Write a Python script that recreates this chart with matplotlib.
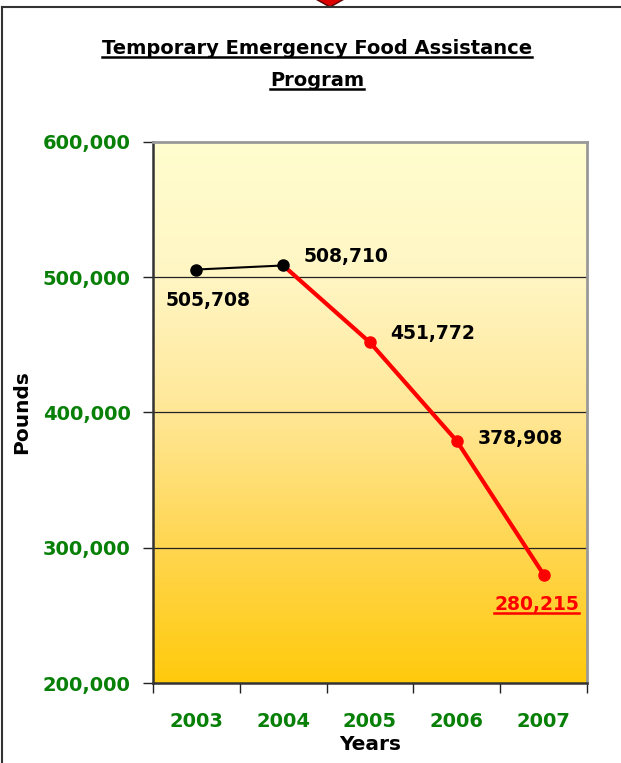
import matplotlib
matplotlib.use("Agg")
import matplotlib.pyplot as plt
import numpy as np
from matplotlib.colors import LinearSegmentedColormap
from matplotlib.patches import Polygon
from matplotlib.lines import Line2D

years = ["2003", "2004", "2005", "2006", "2007"]
pounds = [505708, 508710, 451772, 378908, 280215]
label_texts = ["505,708", "508,710", "451,772", "378,908", "280,215"]
yticks = [200000, 300000, 400000, 500000, 600000]
ytick_labels = ["200,000", "300,000", "400,000", "500,000", "600,000"]

W, H = 621, 763
fig = plt.figure(figsize=(W / 100, H / 100), dpi=100)
fig.patch.set_facecolor("white")

FONT = "DejaVu Sans"
GREEN = "#088008"

def px(x0, y0, x1, y1):
    return [x0 / W, 1 - y1 / H, (x1 - x0) / W, (y1 - y0) / H]

ax = fig.add_axes(px(153, 142, 587, 683))
x = np.arange(len(years))
ax.set_xlim(-0.5, len(years) - 0.5)
ax.set_ylim(200000, 600000)

# gradient background
cmap = LinearSegmentedColormap.from_list(
    "g", [(0.0, "#FFCA0C"), (0.25, "#FFD650"), (0.5, "#FFE796"),
          (0.75, "#FFF6C4"), (1.0, "#FFFDCE")])
grad = np.linspace(0, 1, 256).reshape(-1, 1)
ax.imshow(grad, extent=[-0.5, len(years) - 0.5, 200000, 600000], origin="lower",
          aspect="auto", cmap=cmap, zorder=0)

for yv in [300000, 400000, 500000]:
    ax.axhline(yv, color="#222222", lw=0.9, zorder=1)

ax.plot(x[:2], pounds[:2], color="black", lw=1.5, zorder=3)
ax.plot(x[1:], pounds[1:], color="#FF0000", lw=3, zorder=3)
ax.plot(x[:2], pounds[:2], "o", color="black", ms=8, zorder=4)
ax.plot(x[2:], pounds[2:], "o", color="#FF0000", ms=8, zorder=4)

offsets = [(12, -31), (63, 9), (63, 9), (64, 3), (-7, -30)]
colors = ["black", "black", "black", "black", "#FF0000"]
anns = []
for i in range(len(years)):
    a = ax.annotate(label_texts[i], (x[i], pounds[i]), xytext=offsets[i],
                    textcoords="offset pixels", ha="center", va="center",
                    fontsize=13.5, fontweight="bold", color=colors[i],
                    family=FONT, zorder=5)
    anns.append(a)

ax.set_yticks(yticks)
ax.set_yticklabels(ytick_labels, fontsize=14, fontweight="bold", color=GREEN, family=FONT)
ax.set_xticks(np.arange(-0.5, len(years), 1.0))
ax.set_xticklabels([])
ax.set_xticks(x, minor=True)
ax.set_xticklabels(years, minor=True, fontsize=14, fontweight="bold", color=GREEN, family=FONT)
ax.tick_params(axis="x", which="minor", length=0, pad=21)
ax.tick_params(axis="x", which="major", length=7, width=1, color="#222222", direction="out")
ax.tick_params(axis="y", length=7, width=1, color="#222222", pad=9)

for s in ["left", "bottom"]:
    ax.spines[s].set_color("#333333")
    ax.spines[s].set_linewidth(1.8)
for s in ["top", "right"]:
    ax.spines[s].set_color("#999999")
    ax.spines[s].set_linewidth(2)

fig.text(22 / W, 1 - 412 / H, "Pounds", rotation=90, ha="center", va="center",
         fontsize=14.5, fontweight="bold", family=FONT)
fig.text(370 / W, 1 - 745 / H, "Years", ha="center", va="center",
         fontsize=14.5, fontweight="bold", family=FONT)

t1 = fig.text(317 / W, 1 - 48 / H, "Temporary Emergency Food Assistance", ha="center",
              va="center", fontsize=14, fontweight="bold", family=FONT)
t2 = fig.text(317 / W, 1 - 80 / H, "Program", ha="center", va="center",
              fontsize=14, fontweight="bold", family=FONT)

# frame lines
fig.add_artist(Line2D([1.5 / W, 1.5 / W], [0, 1 - 7 / H], color="#333333", lw=1.5,
                      transform=fig.transFigure))
fig.add_artist(Line2D([1.5 / W, 1], [1 - 7 / H, 1 - 7 / H], color="#333333", lw=1.5,
                      transform=fig.transFigure))
# red diamond (partially visible)
dia = [(330, -21), (355, -7), (330, 7), (305, -7)]
fig.add_artist(Polygon([(a / W, 1 - b / H) for a, b in dia], closed=True,
                       facecolor="#DD0000", edgecolor="#550000", lw=1,
                       transform=fig.transFigure, clip_on=False, zorder=0))

# underlines
fig.canvas.draw()
r = fig.canvas.get_renderer()
def underline(t, color, lw=1.8, gap=0):
    bb = t.get_window_extent(renderer=r)
    y = bb.y0 - gap + 1
    fig.add_artist(Line2D([bb.x0 / W, bb.x1 / W], [y / H, y / H], color=color, lw=lw,
                          transform=fig.transFigure))
underline(t1, "black")
underline(t2, "black")
underline(anns[4], "#FF0000")

fig.savefig("out.png", dpi=100)
